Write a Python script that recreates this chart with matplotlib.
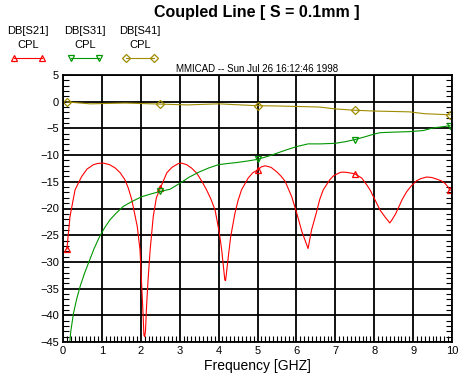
import matplotlib
matplotlib.use('Agg')
import matplotlib.pyplot as plt
from matplotlib.lines import Line2D
from matplotlib.ticker import MultipleLocator

plt.rcParams['font.family'] = ['Liberation Sans', 'DejaVu Sans']

# S21 (red) - through
f_s21 = [0.1, 0.18, 0.31, 0.48, 0.62, 0.78, 0.9, 1.04, 1.2, 1.34, 1.47, 1.59, 1.68, 1.77,
         1.91, 1.98, 2.02, 2.06, 2.08, 2.1, 2.12, 2.15, 2.19, 2.24, 2.32, 2.4, 2.5, 2.67,
         2.8, 2.96, 3.05, 3.18, 3.3, 3.44, 3.56, 3.69, 3.8, 3.91, 4.02, 4.08, 4.16, 4.18,
         4.25, 4.31, 4.42, 4.5, 4.59, 4.76, 4.88, 5.0, 5.1, 5.2, 5.35, 5.49, 5.6, 5.71,
         5.88, 6.01, 6.14, 6.3, 6.39, 6.52, 6.6, 6.69, 6.86, 6.95, 7.08, 7.15, 7.25, 7.35,
         7.5, 7.68, 7.81, 7.9, 7.98, 8.05, 8.15, 8.28, 8.4, 8.45, 8.55, 8.62, 8.72, 8.84,
         8.95, 9.09, 9.2, 9.35, 9.48, 9.61, 9.72, 9.82, 9.9, 9.95]
db_s21 = [-27.6, -21.5, -16.5, -14.0, -12.6, -11.8, -11.55, -11.5, -11.8, -12.4, -13.3, -14.6,
          -16.2, -18.4, -23.4, -27.8, -34.0, -40.0, -43.7, -44.0, -43.0, -38.0, -33.0, -27.8,
          -21.5, -18.0, -16.2, -13.3, -12.3, -11.6, -11.5, -11.8, -12.4, -13.4, -14.8, -16.5,
          -18.2, -20.3, -24.6, -27.8, -33.4, -33.5, -29.0, -25.3, -20.9, -18.5, -16.5, -14.3,
          -13.3, -12.8, -12.2, -12.0, -12.3, -13.1, -13.9, -14.9, -17.8, -20.9, -24.3, -27.5,
          -24.0, -20.6, -18.3, -16.5, -14.6, -13.9, -13.4, -13.2, -13.2, -13.3, -13.5, -14.3,
          -15.6, -16.6, -17.8, -18.8, -20.3, -21.6, -22.7, -22.2, -21.0, -19.9, -18.3, -16.8,
          -15.8, -14.8, -14.4, -14.1, -14.2, -14.5, -14.8, -15.3, -16.0, -16.6]

# S31 (green) - coupled
f_s31 = [0.1, 0.18, 0.2, 0.27, 0.35, 0.44, 0.55, 0.65, 0.8, 0.95, 1.08, 1.21, 1.35, 1.55,
         1.77, 2.02, 2.25, 2.5, 2.75, 3.0, 3.25, 3.52, 3.75, 3.99, 4.2, 4.46, 4.75, 5.0,
         5.32, 5.75, 6.01, 6.3, 6.61, 6.99, 7.25, 7.5, 7.75, 7.98, 8.15, 8.5, 8.92, 9.26,
         9.52, 9.75, 9.95]
db_s31 = [-52.0, -44.6, -43.0, -39.6, -37.0, -34.6, -32.2, -30.3, -27.5, -25.1, -23.5, -22.1,
          -21.0, -19.6, -18.7, -17.8, -17.3, -16.8, -16.4, -15.3, -14.1, -13.1, -12.4, -11.8,
          -11.6, -11.4, -11.1, -10.8, -10.1, -9.0, -8.4, -7.9, -7.9, -7.8, -7.5, -7.1, -6.6,
          -6.1, -5.8, -5.7, -5.6, -5.4, -4.9, -4.7, -4.5]

# S41 (olive) - isolated
f_s41 = [0.1, 0.7, 1.6, 2.5, 3.2, 4.0, 5.0, 5.5, 6.6, 7.0, 7.5, 8.0, 8.9, 9.3, 9.95]
db_s41 = [-0.05, -0.4, -0.25, -0.45, -0.6, -0.4, -0.75, -0.8, -1.0, -1.35, -1.6, -1.75,
          -1.9, -2.25, -2.45]

marker_f = [0.1, 2.5, 5.0, 7.5, 9.95]

series = [
    ('DB[S21]', f_s21, db_s21, '#ff0000', '^'),
    ('DB[S31]', f_s31, db_s31, '#009600', 'v'),
    ('DB[S41]', f_s41, db_s41, '#a08c00', 'D'),
]

fig = plt.figure(figsize=(4.67, 3.76), dpi=100)
ax = fig.add_axes([63 / 467, 1 - 342 / 376, (452 - 63) / 467, (342 - 75) / 376])

for name, f, db, col, mk in series:
    idx = [f.index(m) for m in marker_f]
    ax.plot(f, db, color=col, lw=0.8, marker=mk, markevery=idx,
            ms=4.5 if mk == 'D' else 5, mfc='none', mec=col, mew=0.9)

ax.set_xlim(0, 10)
ax.set_ylim(-45, 5)
ax.xaxis.set_major_locator(MultipleLocator(1))
ax.xaxis.set_minor_locator(MultipleLocator(0.1))
ax.yaxis.set_major_locator(MultipleLocator(5))
ax.yaxis.set_minor_locator(MultipleLocator(1))
ax.grid(True, which='major', color='black', lw=1.3)
ax.tick_params(which='major', length=0, labelsize=8, pad=3)
ax.tick_params(which='minor', direction='in', length=4, width=0.8, color='black')
ax.tick_params(axis='y', which='minor', left=True, right=True)
ax.tick_params(axis='x', which='minor', bottom=True, top=False)
for s in ax.spines.values():
    s.set_linewidth(1.3)
    s.set_color('black')

ax.set_xlabel('Frequency [GHZ]', fontsize=10, labelpad=2)
ax.text(0.5, 1.005, 'MMICAD -- Sun Jul 26 16:12:46 1998', transform=ax.transAxes,
        ha='center', va='bottom', fontsize=7)
fig.text(257 / 467, 1 - 12 / 376, 'Coupled Line [ S = 0.1mm ]', ha='center', va='center',
         fontsize=11.5, fontweight='bold')

# legend block at upper left
leg_x = [28, 85, 140]
for (name, f, db, col, mk), cx in zip(series, leg_x):
    fig.text(cx / 467, 1 - 31 / 376, name, ha='center', va='center', fontsize=8)
    fig.text(cx / 467, 1 - 45 / 376, 'CPL', ha='center', va='center', fontsize=8)
    fig.add_artist(Line2D([(cx - 14) / 467, (cx + 14) / 467], [1 - 58 / 376] * 2,
                          transform=fig.transFigure, color=col, lw=0.8, marker=mk,
                          ms=4.5 if mk == 'D' else 5, mfc='none', mec=col, mew=0.9))

fig.savefig('out.png', dpi=100, facecolor='white')
